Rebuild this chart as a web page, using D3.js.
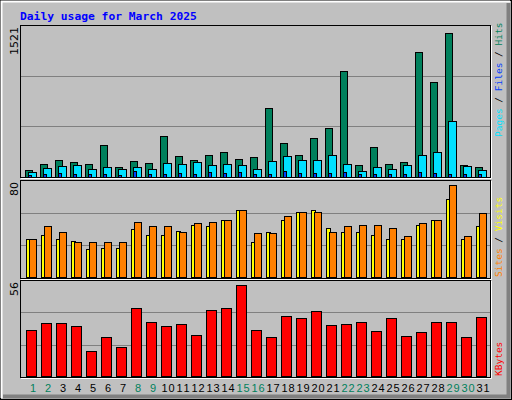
<!DOCTYPE html>
<html><head><meta charset="utf-8">
<script src="https://cdn.jsdelivr.net/npm/d3@7"></script>
<style>body{margin:0;background:#fff}svg{display:block}</style>
</head><body><svg id="c" width="512" height="400"></svg>
<script>
const days = d3.range(1, 32);
const weekendDays = [1,2,8,9,15,16,22,23,29,30];
const hits  = [67,134,174,154,134,324,94,164,144,415,214,174,224,254,184,197,705,344,224,395,505,1086,114,304,124,154,1287,976,1477,114,94];
const pages = [43,84,107,114,74,94,74,94,74,144,134,154,114,134,114,74,164,214,174,174,224,134,53,94,74,114,224,254,575,104,64];
const files = [20,30,40,30,25,25,20,60,30,30,35,30,50,40,45,30,30,60,35,35,35,45,30,25,30,30,45,35,30,25,30];
const sites  = [32.2,35.7,32.2,31.3,24.3,25.2,25.2,41.7,36.5,36.5,40,45.2,44.3,48.7,57.4,30.4,38.3,48.7,55.7,57.4,42.6,38.3,39.1,35.7,33,33,45.2,48.7,67.8,32.2,43.5];
const visits = [32.2,43.5,39.1,29.6,29.6,29.6,29.6,47.8,43.5,43.5,39,46.1,47.8,48.7,57.4,37.4,37.4,52.2,55.7,55.7,38.3,44.3,45.2,45.2,42.6,34.8,46.1,48.7,80,34.8,54.8];
const kbytes = [27.7,32.6,32.6,30.2,14.8,23.4,17.8,41.8,33.2,30.2,32,25.2,40.6,41.8,56,27.7,23.4,36.9,35.1,40,30.8,31.4,33.2,27.1,35.1,24.6,26.5,33.2,33.2,23.4,36.3];
const maxLabels = ["1521","80","56"];

const svg = d3.select("#c");
const W=512,H=400;
svg.append("rect").attr("width",W).attr("height",H).attr("fill","#c0c0c0");
svg.append("rect").attr("x",0.5).attr("y",0.5).attr("width",W-1).attr("height",H-1).attr("fill","none").attr("stroke","#000");
svg.append("path").attr("d","M1.5,398V1.5H510").attr("stroke","#fff").attr("stroke-width",2).attr("fill","none");
svg.append("path").attr("d","M508.5,3V396.5H3").attr("stroke","#808080").attr("stroke-width",4).attr("fill","none");

svg.append("text").attr("x",20).attr("y",20).text("Daily usage for March 2025")
 .attr("font-family","DejaVu Sans Mono").attr("font-weight","bold").attr("font-size",11.3).attr("fill","#0000ff");

const x = d3.scaleBand().domain(days).range([25,490]);
const panels = [
 {top:25,bot:177,max:1521,label:maxLabels[0]},
 {top:180,bot:278,max:80,label:maxLabels[1]},
 {top:280,bot:377,max:56,label:maxLabels[2]}
];
panels.forEach(p=>{
  const g=svg.append("g");
  g.append("rect").attr("x",20.5).attr("y",p.top+0.5).attr("width",470).attr("height",p.bot-p.top).attr("fill","#c0c0c0").attr("stroke","#000");
  g.append("path").attr("d",`M491.5,${p.top+1}V${p.bot+1.5}H21`).attr("stroke","#fff").attr("fill","none");
  const h=p.bot-p.top;
  [1,2].forEach(k=>g.append("line").attr("x1",21).attr("x2",490).attr("y1",p.top+Math.round(h*k/3)+0.5).attr("y2",p.top+Math.round(h*k/3)+0.5).attr("stroke","#808080"));
  g.append("text").attr("transform",`translate(18,${p.top+2}) rotate(-90)`).attr("text-anchor","end")
   .attr("font-family","DejaVu Sans").attr("font-size",11).attr("fill","#000").text(p.label);
  p.y=d3.scaleLinear().domain([0,p.max]);
});
panels[0].y.range([176.5,29]);
panels[1].y.range([276.5,184.5]);
panels[2].y.range([375.5,284.5]);

function bars(vals,p,dx,w,color){
  svg.append("g").selectAll("rect").data(vals).join("rect")
   .attr("x",(v,i)=>Math.round(x(days[i]))+dx+0.5)
   .attr("y",v=>Math.round(p.y(v))+0.5)
   .attr("width",w).attr("height",v=>Math.max(0,Math.round(p.y(0))-Math.round(p.y(v))))
   .attr("fill",color).attr("stroke","#000");
}
bars(hits,panels[0],0,7,"#00805c");
bars(pages,panels[0],3,8,"#00e0ff");
bars(files,panels[0],3,3,"#0040ff");
bars(sites,panels[1],1,4,"#ffff00");
bars(visits,panels[1],4,7,"#ff8000");
bars(kbytes,panels[2],1,10,"#ff0000");

svg.append("g").selectAll("text").data(days).join("text")
 .attr("x",d=>x(d)+8).attr("y",392).attr("text-anchor","middle")
 .attr("font-family","Liberation Sans").attr("font-size",11).attr("textLength",d=>d>9?13:null)
 .attr("fill",d=>weekendDays.includes(d)?"#00805c":"#000").text(d=>d);

function sideLabel(yBottom,parts){
  const t=svg.append("text").attr("transform",`translate(502,${yBottom}) rotate(-90)`)
   .attr("font-family","DejaVu Sans Mono").attr("font-size",9.5);
  parts.forEach(([s,c])=>t.append("tspan").attr("fill",c).text(s));
}
sideLabel(137,[["Pages","#00e0ff"],[" / ","#000"],["Files","#0040ff"],[" / ","#000"],["Hits","#00805c"]]);
sideLabel(277,[["Sites","#ff8000"],[" / ","#000"],["Visits","#ffff00"]]);
sideLabel(376,[["KBytes","#ff0000"]]);
</script></body></html>
